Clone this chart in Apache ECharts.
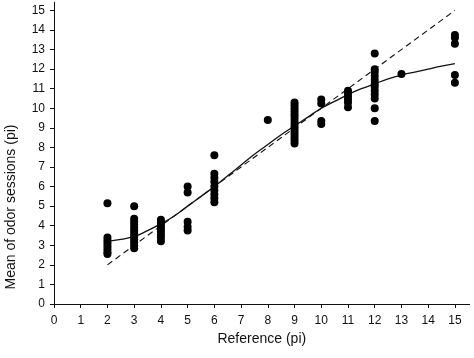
<!DOCTYPE html>
<html>
<head>
<meta charset="utf-8">
<script src="https://cdn.jsdelivr.net/npm/echarts@6/dist/echarts.min.js"></script>
<style>html,body{margin:0;padding:0;background:#fff}#c{width:474px;height:358px}</style>
</head>
<body>
<div id="c"></div>
<script>
// Reference values (x) and the measured session means at each
const refPi = [2, 3, 4, 5, 6, 8, 9, 10, 11, 12, 13, 15];
const sessionMeans = [
  [5.15, 3.4, 3.25, 3.1, 2.95, 2.8, 2.65, 2.55],
  [5.0, 4.35, 4.2, 4.05, 3.9, 3.75, 3.6, 3.45, 3.3, 3.15, 3.0, 2.85],
  [4.3, 4.15, 4.0, 3.85, 3.7, 3.55, 3.4, 3.2],
  [6.0, 5.7, 4.2, 3.95, 3.75],
  [7.6, 6.65, 6.45, 6.25, 6.0, 5.8, 5.6, 5.4, 5.2],
  [9.4],
  [10.3, 10.15, 10.0, 9.85, 9.7, 9.55, 9.4, 9.25, 9.1, 8.95, 8.8, 8.65, 8.5, 8.35, 8.2],
  [10.45, 10.25, 9.35, 9.2],
  [10.9, 10.75, 10.6, 10.45, 10.3, 10.05],
  [12.8, 12.0, 11.85, 11.65, 11.45, 11.25, 11.1, 10.9, 10.7, 10.5, 10.0, 9.35],
  [11.75],
  [13.75, 13.6, 13.3, 11.7, 11.3]
];
// Fitted curve
const fitX = [2, 2.5, 3, 3.5, 4, 4.5, 5, 5.5, 6, 6.5, 7, 7.5, 8, 8.5, 9, 9.5, 10, 10.5, 11, 11.5, 12, 12.5, 13, 13.5, 14, 14.5, 15];
const fitY = [3.2, 3.3, 3.45, 3.75, 4.1, 4.5, 5.0, 5.5, 6.0, 6.55, 7.1, 7.65, 8.15, 8.65, 9.1, 9.55, 10.0, 10.35, 10.7, 11.0, 11.25, 11.5, 11.7, 11.85, 12.0, 12.15, 12.28];
// Identity line
const identityX = [2, 15];
const tickValues = [0,1,2,3,4,5,6,7,8,9,10,11,12,13,14,15];

const scatterData = [];
refPi.forEach((x, i) => sessionMeans[i].forEach(v => scatterData.push([x, v])));
const fitData = fitX.map((x, i) => [x, fitY[i]]);
const identityData = identityX.map(x => [x, x]);

const chart = echarts.init(document.getElementById('c'), null, {renderer: 'canvas'});
const font = 'Liberation Sans, Arial, sans-serif';
const axisCommon = {
  type: 'value',
  min: 0,
  splitLine: {show: false},
  axisLine: {show: true, lineStyle: {color: '#111', width: 1}},
  axisTick: {show: true, length: 4, lineStyle: {color: '#111'}, customValues: tickValues},
  axisLabel: {color: '#111', fontSize: 12, fontFamily: font, customValues: tickValues}
};
chart.setOption({
  animation: false,
  backgroundColor: '#fff',
  grid: {left: 54, right: 4.4, top: 2.2, bottom: 54, containLabel: false},
  xAxis: Object.assign({}, axisCommon, {
    max: 15.55,
    name: 'Reference (pi)',
    nameLocation: 'middle',
    nameGap: 25,
    nameTextStyle: {color: '#111', fontSize: 14, fontFamily: font},
    axisLabel: Object.assign({}, axisCommon.axisLabel, {margin: 11})
  }),
  yAxis: Object.assign({}, axisCommon, {
    max: 15.42,
    axisLabel: Object.assign({}, axisCommon.axisLabel, {margin: 9})
  }),
  graphic: [{
    type: 'text',
    x: 11, y: 207,
    rotation: Math.PI / 2,
    style: {
      text: 'Mean of odor sessions (pi)',
      fill: '#111',
      font: '14px ' + font,
      align: 'center',
      verticalAlign: 'middle'
    }
  }],
  series: [
    {
      type: 'line',
      data: identityData,
      symbol: 'none',
      lineStyle: {color: '#111', width: 1.1, type: [6, 4]},
      z: 2
    },
    {
      type: 'line',
      data: fitData,
      smooth: true,
      symbol: 'none',
      lineStyle: {color: '#111', width: 1.3},
      z: 3
    },
    {
      type: 'scatter',
      data: scatterData,
      symbol: 'circle',
      symbolSize: 8,
      itemStyle: {color: '#000', opacity: 1},
      z: 4
    }
  ]
});
</script>
</body>
</html>
